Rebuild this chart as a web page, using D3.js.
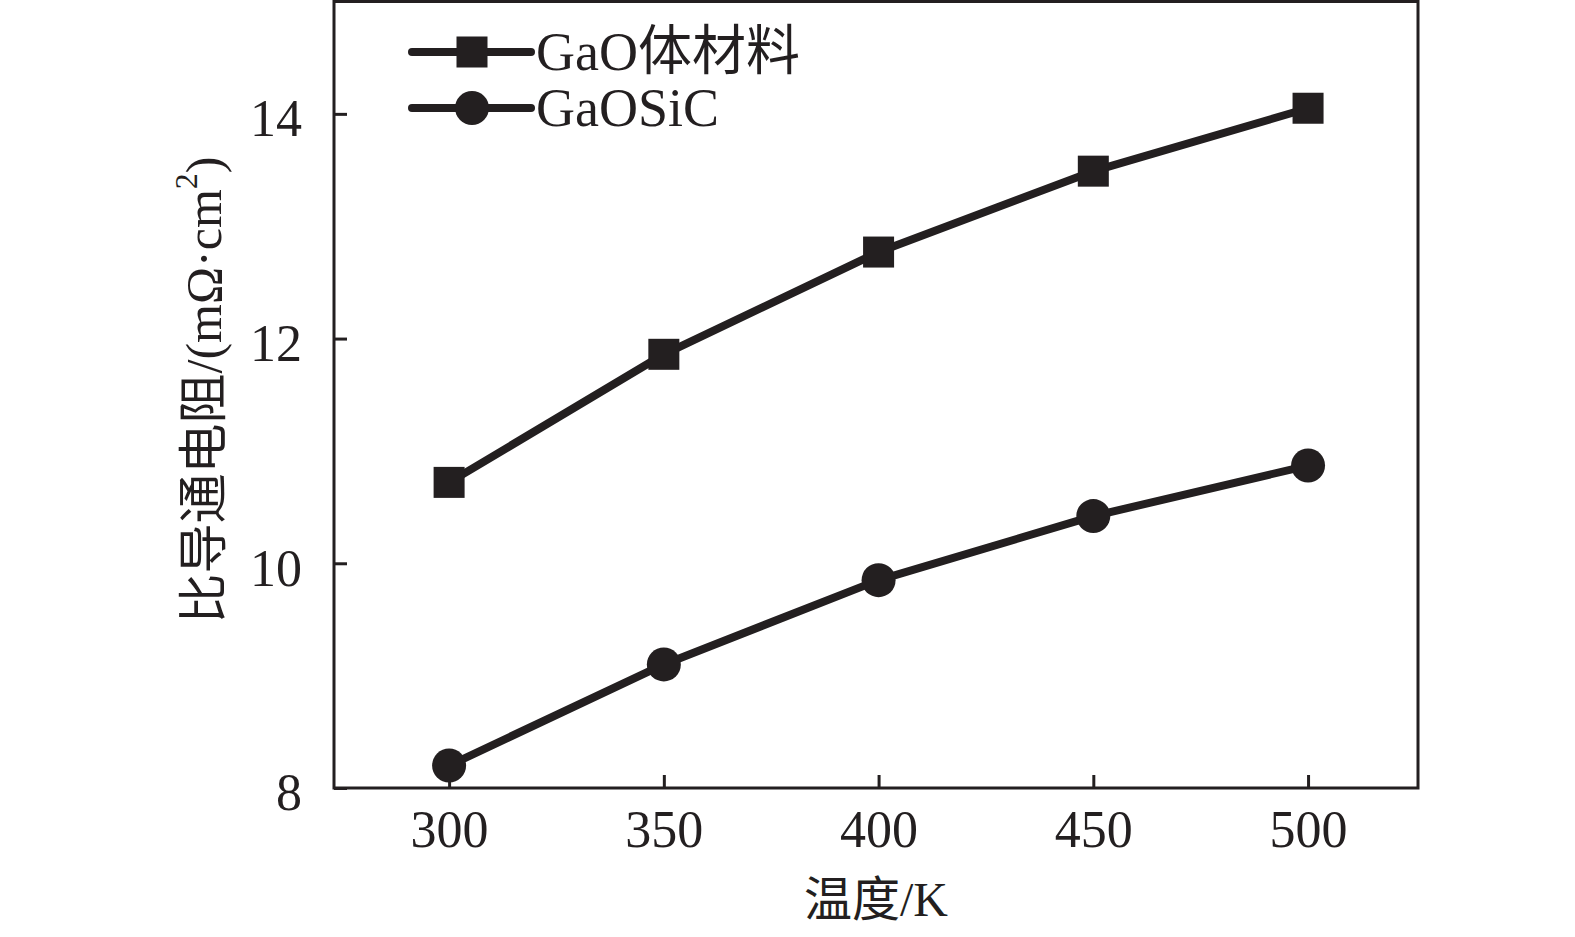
<!DOCTYPE html>
<html>
<head>
<meta charset="utf-8">
<script src="https://cdn.jsdelivr.net/npm/d3@7"></script>
<style>
  body { margin: 0; background: #fff; }
  text { font-family: "Liberation Serif", "Times New Roman", "Noto Sans CJK SC", serif; fill: #231f20; }
</style>
</head>
<body>
<script>
// data
var temps = [300, 350, 400, 450, 500];
var gaoBulk = [10.72, 11.86, 12.77, 13.49, 14.05];
var gaoSiC = [8.20, 9.10, 9.85, 10.42, 10.87];
var seriesNames = ["GaO体材料", "GaOSiC"];
var xTicks = [300, 350, 400, 450, 500];
var yTicks = [8, 10, 12, 14];

var ink = "#231f20";
var width = 1575, height = 937;
var plot = {left: 334, right: 1418, top: 1.5, bottom: 788};

var svg = d3.select("body").append("svg")
	.attr("width", width)
	.attr("height", height);

var x = d3.scaleLinear()
	.domain([273.2, 525.6])
	.range([plot.left, plot.right]);

var y = d3.scaleLinear()
	.domain([8, 15])
	.range([plot.bottom, plot.top]);

// axes, ticks pointing in
var xAxis = svg.append("g")
	.attr("transform", "translate(0," + plot.bottom + ")")
	.call(d3.axisBottom(x).tickValues(xTicks).tickFormat(d3.format("d"))
		.tickSizeInner(-13).tickSizeOuter(0).tickPadding(22));

var yAxis = svg.append("g")
	.attr("transform", "translate(" + plot.left + ",0)")
	.call(d3.axisLeft(y).tickValues(yTicks).tickFormat(d3.format("d"))
		.tickSizeInner(-13).tickSizeOuter(0).tickPadding(32));

[xAxis, yAxis].forEach(function(a) {
	a.select(".domain").remove();
	a.selectAll(".tick line").attr("stroke", ink).attr("stroke-width", 3);
	a.selectAll(".tick text").attr("font-size", 52).attr("fill", ink);
});
yAxis.selectAll(".tick text").attr("dy", "0.42em");

// frame
svg.append("rect")
	.attr("x", plot.left)
	.attr("y", plot.top)
	.attr("width", plot.right - plot.left)
	.attr("height", plot.bottom - plot.top)
	.attr("fill", "none")
	.attr("stroke", ink)
	.attr("stroke-width", 3);

// axis titles
svg.append("text")
	.attr("x", (plot.left + plot.right) / 2)
	.attr("y", 916)
	.attr("text-anchor", "middle")
	.attr("font-size", 48)
	.text("温度/K");

var yTitle = svg.append("text")
	.attr("transform", "translate(221,390) rotate(-90)")
	.attr("text-anchor", "middle")
	.attr("font-size", 50);
yTitle.append("tspan").text("比导通电阻/(mΩ·cm");
yTitle.append("tspan").attr("font-size", 32).attr("dy", "-0.75em").text("2");
yTitle.append("tspan").attr("dy", "0.48em").text(")");

// lines and markers
var line = d3.line()
	.x(function(d) { return x(d[0]); })
	.y(function(d) { return y(d[1]); });

var series = [
	{name: seriesNames[0], values: d3.zip(temps, gaoBulk), shape: "square"},
	{name: seriesNames[1], values: d3.zip(temps, gaoSiC), shape: "circle"}
];

function marker(g, shape) {
	if (shape === "square") {
		g.append("rect")
			.attr("x", -15.5).attr("y", -15.5)
			.attr("width", 31).attr("height", 31)
			.attr("fill", ink);
	} else {
		g.append("circle")
			.attr("r", 17)
			.attr("fill", ink);
	}
}

series.forEach(function(s) {
	svg.append("path")
		.datum(s.values)
		.attr("d", line)
		.attr("fill", "none")
		.attr("stroke", ink)
		.attr("stroke-width", 8)
		.attr("stroke-linejoin", "round");

	svg.selectAll(".pt-" + s.shape)
		.data(s.values)
		.enter().append("g")
		.attr("class", "pt-" + s.shape)
		.attr("transform", function(d) { return "translate(" + x(d[0]) + "," + y(d[1]) + ")"; })
		.each(function() { marker(d3.select(this), s.shape); });
});

// legend
var legend = svg.append("g");
series.forEach(function(s, i) {
	var row = legend.append("g")
		.attr("transform", "translate(0," + (52 + i * 56) + ")");
	row.append("line")
		.attr("x1", 412).attr("x2", 531)
		.attr("stroke", ink)
		.attr("stroke-width", 8)
		.attr("stroke-linecap", "round");
	var m = row.append("g").attr("transform", "translate(472,0)");
	marker(m, s.shape);
	row.append("text")
		.attr("x", 536)
		.attr("y", 18)
		.attr("font-size", 54)
		.text(s.name);
});
</script>
</body>
</html>
